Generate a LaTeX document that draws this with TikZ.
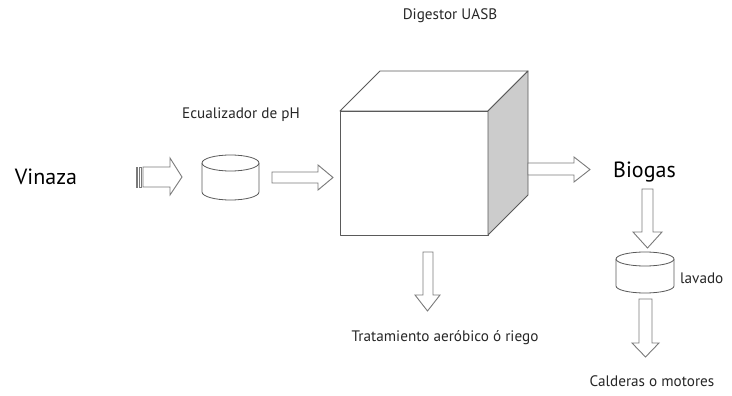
\documentclass[tikz,border=0pt]{standalone}
\usepackage{fontspec}
\setmainfont{PT Sans}
\definecolor{edgegray}{HTML}{5A5A5A}
\definecolor{arrowgray}{HTML}{7A7A7A}
\definecolor{sidegray}{HTML}{CCCCCC}
\tikzset{
  cubeedge/.style={draw=edgegray, line width=0.9pt, line join=round},
  blockarrow/.style={draw=arrowgray, fill=white, line width=0.9pt, line join=miter},
  tank/.style={draw=edgegray, fill=white, line width=0.8pt},
  biglabel/.style={anchor=base, inner sep=0pt, font=\fontsize{22}{24}\selectfont},
  smalllabel/.style={anchor=base, inner sep=0pt, font=\fontsize{15.2}{17}\selectfont, text=black!85}
}
\begin{document}
\begin{tikzpicture}[x=1pt,y=-1pt]
	\useasboundingbox (0,0) rectangle (732,396);
	% labels
	\node[biglabel] (vinaza) at (46,185) {Vinaza};
	\node[biglabel] (biogas) at (644.5,177) {Biogas};
	\node[smalllabel] (ecualizador) at (241,119) {Ecualizador de pH};
	\node[smalllabel] (digestor) at (450,20) {Digestor UASB};
	\node[smalllabel] (tratamiento) at (445,341) {Tratamiento aeróbico ó riego};
	\node[smalllabel] (calderas) at (652,386) {Calderas o motores};
	\node[smalllabel, anchor=base west] (lavado) at (680,283) {lavado};
	% striped arrow from Vinaza
	\draw[blockarrow] (136,167) rectangle (137.5,187);
	\draw[blockarrow] (139.5,167) rectangle (141,187);
	\draw[blockarrow] (143,167) -- (170,167) -- (170,158) -- (182,177) -- (170,195) -- (170,187) -- (143,187) -- cycle;
	% ecualizador tank
	\draw[tank] (202,163) -- (202,192) arc [start angle=180, end angle=360, x radius=28.5pt, y radius=8pt] -- (259,163);
	\draw[tank] (230.5,163) ellipse [x radius=28.5pt, y radius=8pt];
	% arrow to digester
	\draw[blockarrow] (272,172) -- (318,172) -- (318,165) -- (333,177.5) -- (318,190) -- (318,183) -- (272,183) -- cycle;
	% digester cube
	\draw[cubeedge, fill=white] (340,111) rectangle (488,235);
	\draw[cubeedge, fill=white] (340,111) -- (380,71) -- (528,71) -- (488,111) -- cycle;
	\draw[cubeedge, fill=sidegray] (488,111) -- (528,71) -- (528,195) -- (488,235) -- cycle;
	% arrow to biogas
	\draw[blockarrow] (528,163) -- (574,163) -- (574,157) -- (590,169.5) -- (574,182) -- (574,175) -- (528,175) -- cycle;
	% arrow down to tratamiento
	\draw[blockarrow] (423,252) -- (423,295) -- (415,295) -- (427.5,311) -- (440,295) -- (433,295) -- (433,252) -- cycle;
	% biogas to lavado
	\draw[blockarrow] (642,189) -- (642,232) -- (633,232) -- (647.5,248) -- (662,232) -- (653,232) -- (653,189) -- cycle;
	% lavado tank
	\draw[tank] (616,259) -- (616,286) arc [start angle=180, end angle=360, x radius=29pt, y radius=7pt] -- (674,259);
	\draw[tank] (645,259) ellipse [x radius=29pt, y radius=7pt];
	% lavado to calderas
	\draw[blockarrow] (639,299) -- (639,343) -- (632,343) -- (645.5,357) -- (659,343) -- (652,343) -- (652,299) -- cycle;
\end{tikzpicture}
\end{document}
